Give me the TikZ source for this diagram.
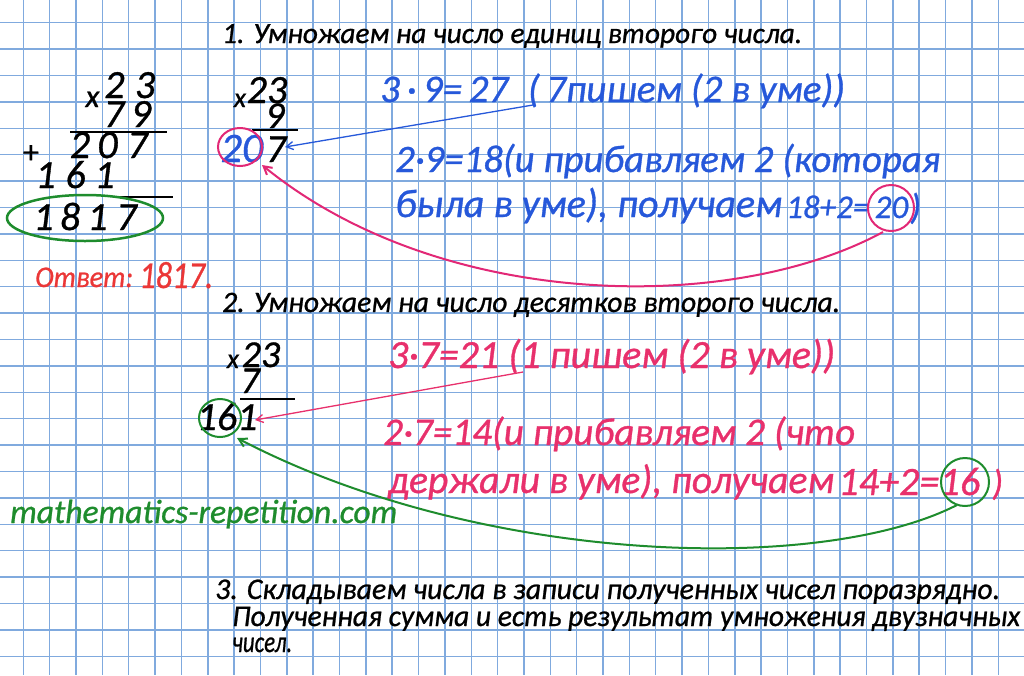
\documentclass[tikz,border=0pt]{standalone}
\usepackage{fontspec}
\usepackage{graphicx}
\setmainfont{Carlito}
\newfontfamily\cf{Carlito}[FakeBold=0.8]
\usetikzlibrary{arrows.meta}
\definecolor{gridc}{RGB}{128,170,222}
\definecolor{bluet}{RGB}{38,88,218}
\definecolor{pinkt}{RGB}{232,48,108}
\definecolor{magc}{RGB}{226,40,118}
\definecolor{greenc}{RGB}{30,140,45}
\definecolor{redt}{RGB}{235,55,55}
\newcommand\fw[2]{\resizebox{#1pt}{!}{#2}}
\newcommand\fwh[2]{\resizebox{#1pt}{\height}{#2}}
\newcommand\fwhh[3]{\resizebox{#1pt}{#2pt}{#3}}
\newcommand\fs[1]{\fontsize{#1}{#1}\selectfont}
\begin{document}
\begin{tikzpicture}[x=1pt,y=-1pt,
  txt/.style={anchor=base west,inner sep=0pt,font=\cf\itshape},
  dig/.style={anchor=base,inner sep=0pt,font=\cf\itshape\fs{40}},
  rule/.style={line width=1.5pt,black},
  ring/.style={line width=2pt},
  conn/.style={line width=1.3pt,-{Straight Barb[length=7pt,width=8pt]}},
  curvearrow/.style={line width=2pt,-{Straight Barb[length=8pt,width=9pt]}}]
\useasboundingbox (0,0) rectangle (1024,675);
\fill[white] (0,0) rectangle (1024,675);
% grid
\foreach \i in {0,...,39} \draw[gridc,line width=1.5pt] ({-3.05+26.35*\i},0) -- ({-3.05+26.35*\i},675);
\foreach \j in {0,...,26} \draw[gridc,line width=1.5pt] (0,{-3.7+26.4*\j}) -- (1024,{-3.7+26.4*\j});

% headings
\node[txt] (h1) at (222,43) {\fs{27}\fw{580}{1. Умножаем на число единиц второго числа.}};
\node[txt] (h2) at (222,312) {\fs{27}\fw{618}{2. Умножаем на число десятков второго числа.}};
\node[txt] (h3a) at (215,599) {\fs{30}\fwh{785}{3. Складываем числа в записи полученных чисел поразрядно.}};
\node[txt] (h3b) at (232,626) {\fs{30}\fwh{788}{Полученная сумма и есть результат умножения двузначных}};
\node[txt] (h3c) at (232,652) {\fs{30}\fwh{60}{чисел.}};

% left column: full multiplication
\node[dig,font=\cf\itshape\fs{32}] (lx) at (92.5,107) {x};
\foreach \x/\d [count=\k] in {114.5/2,145/3} \node[dig] (ra\k) at (\x,98) {\d};
\foreach \x/\d [count=\k] in {114/7,141/9} \node[dig] (rb\k) at (\x,127) {\d};
\draw[rule] (70,132) -- (167,132);
\foreach \x/\d [count=\k] in {80/2,107.5/0,137.5/7} \node[dig] (rc\k) at (\x,158) {\d};
\node[anchor=center,inner sep=0pt,font=\cf\fs{32}] (plus) at (31,154) {+};
\foreach \x/\d [count=\k] in {45.5/1,75.5/6,104.5/1} \node[dig] (rd\k) at (\x,188) {\d};
\draw[rule] (117,197) -- (173,197);
\foreach \x/\d [count=\k] in {43.5/1,70/8,97.5/1,126.5/7} \node[dig] (re\k) at (\x,230) {\d};
\draw[greenc,ring,line width=2.5pt] (85,218) ellipse [x radius=78, y radius=23];
\node[txt,text=redt] (otv) at (35,287) {\fs{24}\fwhh{98}{19.5}{Ответ:}};
\node[txt,text=redt] (otvn) at (139,288) {\fs{35}\fwhh{74}{26}{1817.}};

% first partial product
\node[dig,font=\cf\itshape\fs{28}] (mx1) at (240,107) {x};
\node[dig,font=\cf\itshape\fs{40}] (m23a) at (267,103) {23};
\node[dig,font=\cf\itshape\fs{38}] (m9) at (275,128) {9};
\draw[rule] (252,130) -- (298,130);
\node[dig,font=\cf\itshape\fs{42},text=bluet] (p20) at (242,162) {20};
\node[dig,font=\cf\itshape\fs{40}] (p7) at (276,162) {7};
\draw[magc,ring] (240,147) ellipse [x radius=22, y radius=19];

% second partial product
\node[dig,font=\cf\itshape\fs{28}] (mx2) at (233,368) {x};
\node[dig,font=\cf\itshape\fs{38}] (m23b) at (261,367) {23};
\node[dig,font=\cf\itshape\fs{38}] (m7) at (250,393) {7};
\draw[rule] (240,399) -- (295,399);
\node[dig,font=\cf\itshape\fs{40}] (p161) at (227,430) {161};
\draw[greenc,ring] (220,418) ellipse [x radius=21, y radius=19];

% blue explanations
\node[txt,text=bluet] (b1) at (380,102) {\fs{38}\fw{465}{3\,·\,9=\,27\enspace(\,7пишем (2 в уме))}};
\node[txt,text=bluet] (b2) at (395,172) {\fs{36}\fw{545}{2·9=18(и прибавляем 2 (которая}};
\node[txt,text=bluet] (b3) at (395,217) {\fs{36}\fw{387}{была в уме), получаем}};
\node[txt,text=bluet] (b3s) at (786,218) {\fs{30}\fw{122}{18+2=\,20}};
\node[txt,text=bluet] (b3p) at (910,219) {\fs{36})};
\draw[magc,ring] (891,208) circle [radius=23];

% pink explanations
\node[txt,text=pinkt] (k1) at (388,368) {\fs{36}\fw{447}{3·7=21 (1 пишем (2 в уме))}};
\node[txt,text=pinkt] (k2) at (383,445) {\fs{36}\fw{472}{2·7=14(и прибавляем 2 (что}};
\node[txt,text=pinkt] (k3) at (388,493) {\fs{36}\fw{446}{держали в уме), получаем}};
\node[txt,text=pinkt] (k3s) at (838,495) {\fs{36}\fw{142}{14+2=16}};
\node[txt,text=pinkt] (k3p) at (992,495) {\fs{36})};
\draw[greenc,ring] (965,482) circle [radius=24];

% watermark
\node[txt,text=greenc] (wm) at (10,523) {\fs{28}\fw{387}{mathematics-repetition.com}};

% connectors
\coordinate (bA) at (533,105);
\coordinate (bB) at (285,147);
\coordinate (kA) at (523,372);
\coordinate (kB) at (255,420);
\coordinate (cA) at (883,232);
\coordinate (cB) at (262,165);
\coordinate (gA) at (957,505);
\coordinate (gB) at (237,438);
\draw[conn,bluet] (bA) -- (bB);
\draw[conn,pinkt] (kA) -- (kB);
\draw[curvearrow,magc] (cA) .. controls (730,315) and (440,310) .. (cB);
\draw[curvearrow,greenc] (gA) .. controls (820,575) and (480,565) .. (gB);
\end{tikzpicture}
\end{document}
